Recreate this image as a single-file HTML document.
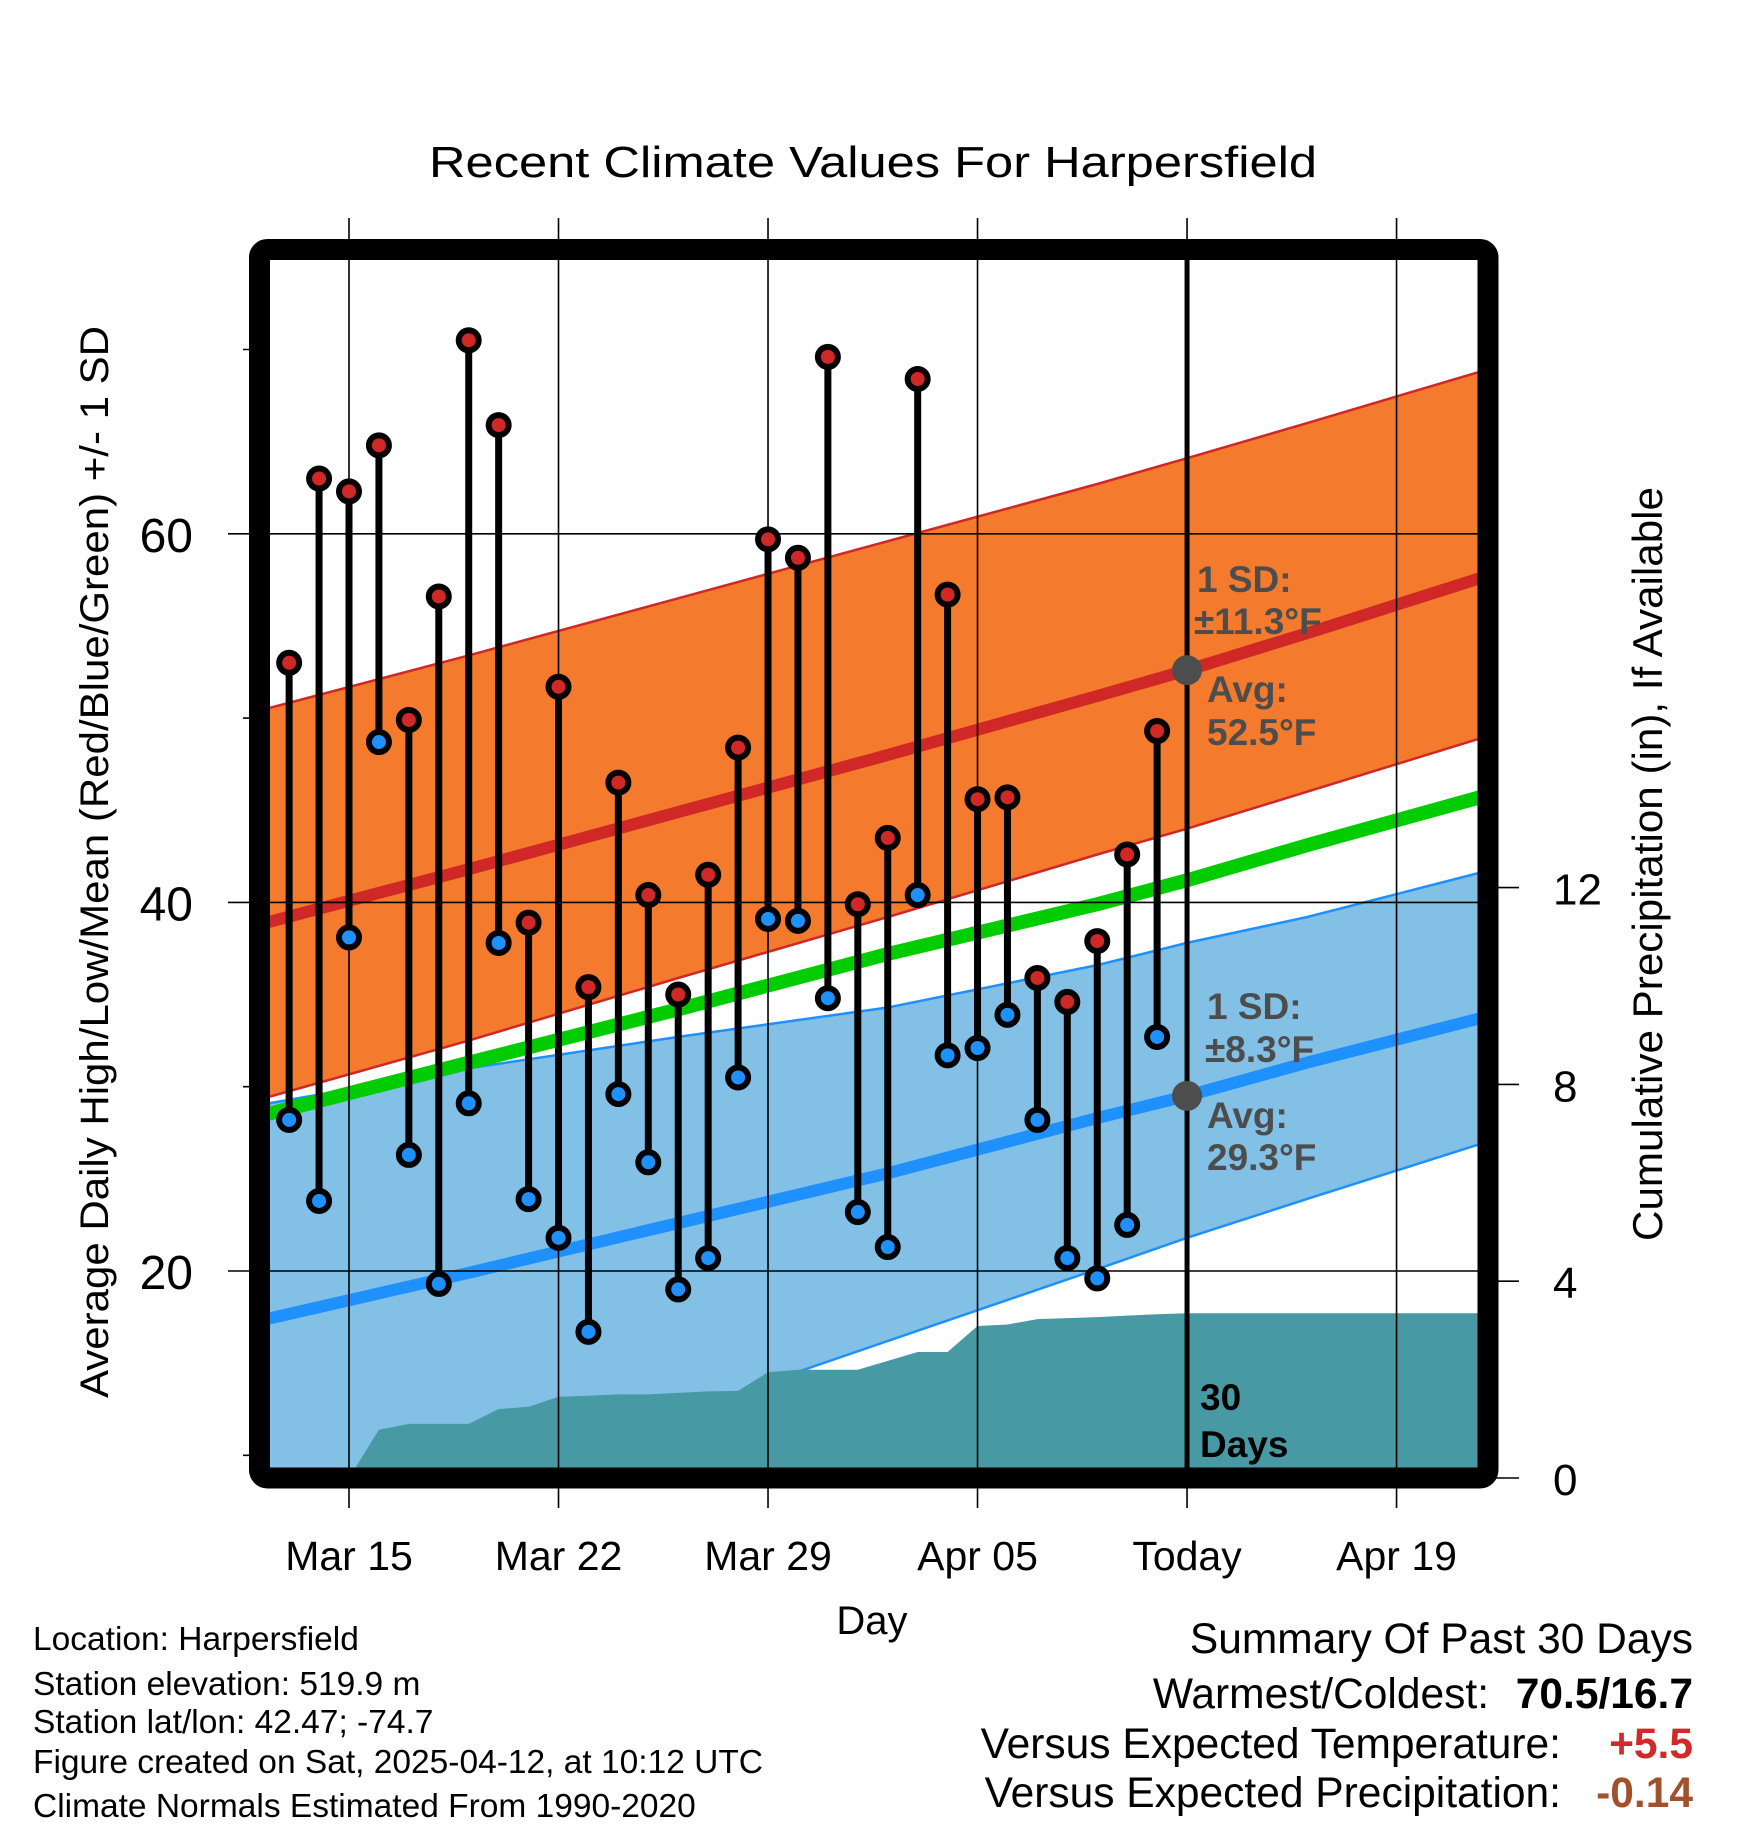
<!DOCTYPE html>
<html><head><meta charset="utf-8"><style>
html,body{margin:0;padding:0;background:#fff;}
svg{display:block;font-family:"Liberation Sans",sans-serif;}
</style></head><body>
<svg id="chart" width="1748" height="1828" viewBox="0 0 1748 1828" xmlns="http://www.w3.org/2000/svg">
<defs><clipPath id="plotclip"><rect x="270" y="260" width="1208" height="1208"/></clipPath></defs>
<rect width="1748" height="1828" fill="#fff"/>
<text x="873" y="177" font-size="44" text-anchor="middle" textLength="888" lengthAdjust="spacingAndGlyphs">Recent Climate Values For Harpersfield</text>
<g id="plot" clip-path="url(#plotclip)"></g>
<g id="over"></g>
<text transform="translate(108,862) rotate(-90)" font-size="40" text-anchor="middle" textLength="1072" lengthAdjust="spacingAndGlyphs">Average Daily High/Low/Mean (Red/Blue/Green) +/- 1 SD</text>
<text transform="translate(1662,864) rotate(-90)" font-size="42" text-anchor="middle" textLength="754" lengthAdjust="spacingAndGlyphs">Cumulative Precipitation (in), If Available</text>
<text x="872" y="1634" font-size="40" text-anchor="middle">Day</text>
<g font-size="33.5">
<text x="33" y="1650">Location: Harpersfield</text>
<text x="33" y="1695">Station elevation: 519.9 m</text>
<text x="33" y="1733">Station lat/lon: 42.47; -74.7</text>
<text x="33" y="1773">Figure created on Sat, 2025-04-12, at 10:12 UTC</text>
<text x="33" y="1817">Climate Normals Estimated From 1990-2020</text>
</g>
<g font-size="42.5">
<text x="1693" y="1653" text-anchor="end">Summary Of Past 30 Days</text>
<text x="1489" y="1708" text-anchor="end">Warmest/Coldest:</text>
<text x="1693" y="1708" text-anchor="end" font-weight="bold">70.5/16.7</text>
<text x="1561" y="1758" text-anchor="end">Versus Expected Temperature:</text>
<text x="1693" y="1758" text-anchor="end" font-weight="bold" fill="#d02a2a">+5.5</text>
<text x="1561" y="1807" text-anchor="end">Versus Expected Precipitation:</text>
<text x="1693" y="1807" text-anchor="end" font-weight="bold" fill="#a0522d">-0.14</text>
</g>
</svg>
<script>
const dayLabels = ["Mar 15","Mar 22","Mar 29","Apr 05","Today","Apr 19"];
const dayTicks = [0,7,14,21,28,35];
const yTicks = [20,40,60];
const yMinor = [10,30,50,70];
const pTicks = [0,4,8,12];
const obsDays = [-2,-1,0,1,2,3,4,5,6,7,8,9,10,11,12,13,14,15,16,17,18,19,20,21,22,23,24,25,26,27];
const highs = [53.0,63.0,62.3,64.8,49.9,56.6,70.5,65.9,38.9,51.7,35.4,46.5,40.4,35.0,41.5,48.4,59.7,58.7,69.6,39.9,43.5,68.4,56.7,45.6,45.7,35.9,34.6,37.9,42.6,49.3];
const lows = [28.2,23.8,38.1,48.7,26.3,19.3,29.1,37.8,23.9,21.8,16.7,29.6,25.9,19.0,20.7,30.5,39.1,39.0,34.8,23.2,21.3,40.4,31.7,32.1,33.9,28.2,20.7,19.6,22.5,32.7];
const normDays = [-3,4,11,18,25,28,32,38];
const meanHigh = [38.8,41.8,44.9,48.0,51.2,52.6,54.6,57.7];
const highUpper = [50.4,53.4,56.5,59.6,62.7,64.1,66.0,68.9];
const highLower = [29.3,32.5,35.9,39.2,42.6,44.0,46.0,49.0];
const meanAvg = [28.4,31.3,34.2,37.2,39.9,41.2,43.1,45.8];
const lowUpper = [29.0,31.0,32.7,34.3,36.6,37.8,39.2,41.7];
const meanLow = [17.3,19.9,22.6,25.3,28.3,29.5,31.3,33.8];
const lowLower = [4.6,8.5,12.3,16.2,20.1,21.8,23.9,27.0];
const precipDays = [-2,-1,0,1,2,3,4,5,6,7,8,9,10,11,12,13,14,15,16,17,18,19,20,21,22,23,24,25,26,27,28,38];
const precipCum = [0,0,0,0.98,1.1,1.1,1.1,1.4,1.45,1.65,1.67,1.7,1.7,1.73,1.76,1.77,2.15,2.2,2.2,2.2,2.38,2.56,2.56,3.09,3.12,3.23,3.25,3.27,3.3,3.33,3.35,3.35];
const todayDay = 28;

const NS="http://www.w3.org/2000/svg";
const X=d=>349+d*29.93;
const Y=v=>1271-(v-20)*18.43;
const YP=p=>1478-p*49.2;
const plot=document.getElementById('plot');
const over=document.getElementById('over');
function mk(tag,parent,attrs){const e=document.createElementNS(NS,tag);for(const k in attrs)e.setAttribute(k,attrs[k]);parent.appendChild(e);return e;}
function pts(days,vals){return days.map((d,i)=>X(d).toFixed(1)+','+Y(vals[i]).toFixed(1));}

let e=mk('polygon',plot,{points:pts(normDays,highUpper).concat(pts(normDays,highLower).reverse()).join(' '),fill:'#f47a2e',stroke:'#d02727','stroke-width':2.5});


e=mk('polygon',plot,{points:pts(normDays,lowUpper).concat(pts(normDays,lowLower).reverse()).join(' '),fill:'#82c0e6',stroke:'#1e90ff','stroke-width':2.5});


e=mk('polyline',plot,{points:pts(normDays,meanAvg).join(' '),fill:'none',stroke:'#00cc00','stroke-width':14});


e=mk('polyline',plot,{points:pts(normDays,meanHigh).join(' '),fill:'none',stroke:'#d02727','stroke-width':12});


e=mk('polyline',plot,{points:pts(normDays,meanLow).join(' '),fill:'none',stroke:'#1e90ff','stroke-width':12});


let pp=precipDays.map((d,i)=>X(d).toFixed(1)+','+YP(precipCum[i]).toFixed(1));
pp.push(X(precipDays[precipDays.length-1]).toFixed(1)+','+YP(0));
pp.push(X(precipDays[0]).toFixed(1)+','+YP(0));
e=mk('polygon',plot,{points:pp.join(' '),fill:'#4799a3'});



dayTicks.forEach((d,i)=>{
  const g=mk('line',over,{x1:X(d),x2:X(d),y1:218,y2:1508,stroke:'#000','stroke-width':1.6});
  
  
  const t=mk('text',over,{x:X(d),y:1570,'font-size':41,'text-anchor':'middle'});
  t.textContent=dayLabels[i];
  
  
});
yTicks.forEach(v=>{
  const g=mk('line',over,{x1:228,x2:1478,y1:Y(v),y2:Y(v),stroke:'#000','stroke-width':1.6});
  
  
  const t=mk('text',over,{x:193,y:Y(v)+18,'font-size':48,'text-anchor':'end'});
  t.textContent=v;
  
  
});
yMinor.forEach(v=>{
  const g=mk('line',over,{x1:243,x2:262,y1:Y(v),y2:Y(v),stroke:'#000','stroke-width':1.6});
  
  
});
pTicks.forEach(p=>{
  const g=mk('line',over,{x1:1490,x2:1519,y1:YP(p),y2:YP(p),stroke:'#000','stroke-width':1.6});
  
  
  const t=mk('text',over,{x:1553,y:YP(p)+17,'font-size':44});
  t.textContent=p;
  
  
});

obsDays.forEach((d,i)=>{
  const s=mk('line',over,{x1:X(d),x2:X(d),y1:Y(highs[i]),y2:Y(lows[i]),stroke:'#000','stroke-width':7});
  
  
});
obsDays.forEach((d,i)=>{
  const h=mk('circle',over,{cx:X(d),cy:Y(highs[i]),r:10,fill:'#d02727',stroke:'#000','stroke-width':6});
  
  
  const l=mk('circle',over,{cx:X(d),cy:Y(lows[i]),r:10,fill:'#1e90ff',stroke:'#000','stroke-width':6});
  
  
});

e=mk('line',over,{x1:X(todayDay),x2:X(todayDay),y1:260,y2:1468,stroke:'#000','stroke-width':5});


function interp(arr,d){for(let i=0;i<normDays.length-1;i++){if(d>=normDays[i]&&d<=normDays[i+1]){const f=(d-normDays[i])/(normDays[i+1]-normDays[i]);return arr[i]+f*(arr[i+1]-arr[i]);}}return arr[arr.length-1];}
e=mk('circle',over,{cx:X(todayDay),cy:Y(interp(meanHigh,todayDay)),r:15,fill:'#4d4d4d'});


e=mk('circle',over,{cx:X(todayDay),cy:Y(interp(meanLow,todayDay)),r:15,fill:'#4d4d4d'});



const labels=[["1 SD:",1197,592],["\u00b111.3\u00b0F",1194,634],["Avg:",1207,702],["52.5\u00b0F",1207,745],["1 SD:",1207,1019],["\u00b18.3\u00b0F",1205,1062],["Avg:",1207,1128],["29.3\u00b0F",1207,1170]];
labels.forEach(a=>{
  const t=mk('text',over,{x:a[1],y:a[2],'font-size':37,'font-weight':'bold',fill:'#4d4d4d'});
  t.textContent=a[0];
  
  
});
[["30",1200,1410],["Days",1200,1457]].forEach(a=>{
  const t=mk('text',over,{x:a[1],y:a[2],'font-size':37,'font-weight':'bold',fill:'#000'});
  t.textContent=a[0];
  
  
});

e=mk('rect',over,{x:259.5,y:249.5,width:1228.5,height:1228.5,rx:8,fill:'none',stroke:'#000','stroke-width':21});


</script>
</body></html>
